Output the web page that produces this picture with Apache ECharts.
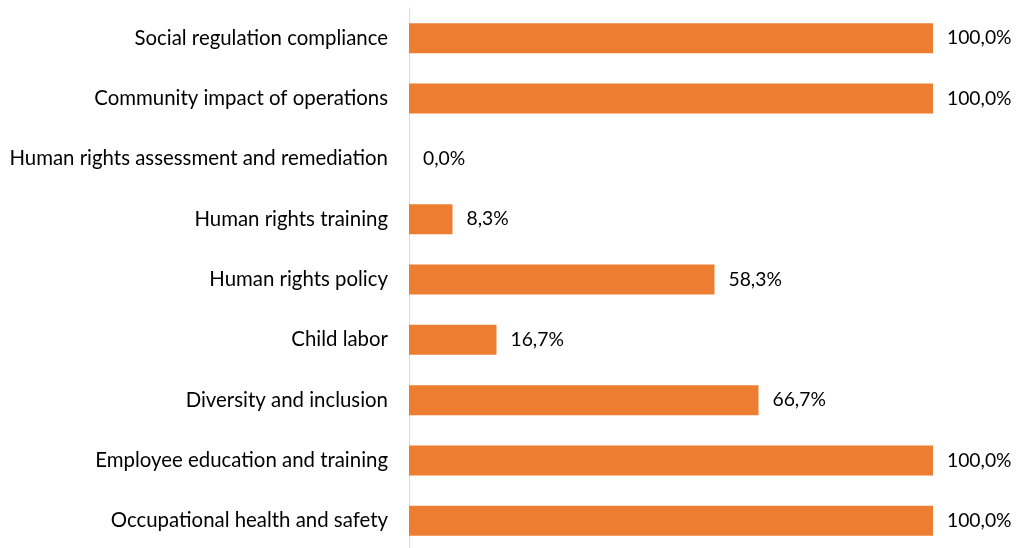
<!DOCTYPE html>
<html>
<head>
<meta charset="utf-8">
<script src="https://cdn.jsdelivr.net/npm/echarts@6/dist/echarts.min.js"></script>
<style>
  html, body { margin: 0; padding: 0; background: #fff; }
  #chart { width: 1016px; height: 548px; }
</style>
</head>
<body>
<div id="chart"></div>
<script>
// categories top to bottom
const categories = [
  'Social regulation compliance',
  'Community impact of operations',
  'Human rights assessment and remediation',
  'Human rights training',
  'Human rights policy',
  'Child labor',
  'Diversity and inclusion',
  'Employee education and training',
  'Occupational health and safety'
]
const values = [100, 100, 0, 8.3, 58.3, 16.7, 66.7, 100, 100] // %

const chart = echarts.init(document.getElementById('chart'))
const font = 'Lato'

chart.setOption({
  animation: false,
  grid: { left: 409, top: 8, width: 524, height: 543, outerBoundsMode: 'none' },
  xAxis: {
    type: 'value',
    min: 0,
    max: 100,
    show: false
  },
  yAxis: {
    type: 'category',
    data: categories,
    inverse: true,
    axisLine: { show: true, lineStyle: { color: '#d9dde6', width: 1 } },
    axisTick: { show: false },
    axisLabel: {
      margin: 21,
      color: '#000',
      fontFamily: font,
      fontSize: 20.4
    }
  },
  series: [
    {
      type: 'bar',
      data: values,
      barWidth: 30,
      itemStyle: { color: '#ed7d31' },
      label: {
        show: true,
        position: 'right',
        distance: 14,
        color: '#000',
        fontFamily: font,
        fontSize: 19.3,
        formatter: function (p) {
          return p.value.toFixed(1).replace('.', ',') + '%'
        }
      }
    }
  ]
})
</script>
</body>
</html>
